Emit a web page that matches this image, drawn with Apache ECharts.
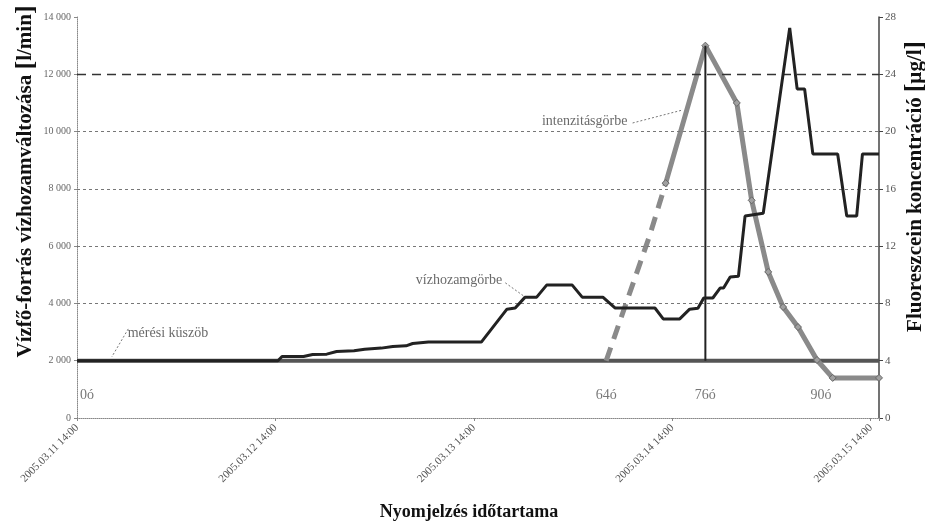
<!DOCTYPE html>
<html>
<head>
<meta charset="utf-8">
<script src="https://cdn.jsdelivr.net/npm/echarts@6/dist/echarts.min.js"></script>
<style>
  html, body { margin: 0; padding: 0; background: #ffffff; }
  #chart { width: 925px; height: 522px; }
</style>
</head>
<body>
<div id="chart"></div>
<script>
// Hours elapsed since 2005.03.11 14:00 on the x axis
const dayLabels = ['2005.03.11 14:00', '2005.03.12 14:00', '2005.03.13 14:00', '2005.03.14 14:00', '2005.03.15 14:00'];

// Spring discharge (l/min)
const dischargeHours  = [0, 24.3, 24.8, 27.4, 28.5, 30.2, 31.4, 33.5, 34.8, 36.8, 38.2, 39.8, 40.6, 42.5, 48.9,
                         52.0, 53.0, 54.2, 55.6, 56.8, 59.9, 61.1, 63.6, 65.1, 69.9, 70.9, 72.9, 74.1, 75.1,
                         75.8, 76.9, 77.8, 78.2, 79.0, 80.0, 80.8, 83.0, 86.2, 87.1, 88.0, 89.0, 92.0, 93.1,
                         94.3, 95.0, 97.0];
const dischargeValues = [2000, 2000, 2150, 2150, 2220, 2230, 2320, 2350, 2400, 2440, 2500, 2520, 2600, 2650, 2650,
                         3800, 3840, 4220, 4220, 4640, 4640, 4220, 4220, 3840, 3840, 3460, 3460, 3800, 3830,
                         4190, 4190, 4540, 4540, 4920, 4950, 7050, 7150, 13620, 11490, 11490, 9220, 9220, 7050,
                         7050, 9220, 9220];

// Fluorescein concentration (µg/l): estimated rising limb, then measured curve
const risingHours  = [64, 69.3, 71.2];
const risingValues = [4.0, 12.8, 16.4];
const intensityHours  = [71.2, 76, 79.8, 81.6, 83.6, 85.4, 87.2, 89.5, 91.4, 97];
const intensityValues = [16.4, 26.0, 22.0, 15.2, 10.2, 7.75, 6.35, 4.05, 2.8, 2.8];

// Detection threshold (µg/l)
const thresholdConc = 4;
const thresholdHours = [0, 97];

// Time of the concentration peak and the marked hours
const peakHour = 76;
const hourMarks = [0, 64, 76, 90];

// Horizontal guide lines on the discharge axis
const guideValues = [4000, 6000, 8000, 10000, 12000];
const strongGuide = 12000;

const serif = '"Liberation Serif", "DejaVu Serif", serif';

const zip = (xs, ys) => xs.map((x, i) => [x, ys[i]]);
const peakConc = intensityValues[intensityHours.indexOf(peakHour)];

// Curve captions with their leader lines (data coordinates on the discharge axis)
const captions = [
  { text: 'intenzitásgörbe', at: [61.4, 10370], leader: [[67.2, 10300], [73.2, 10750]] },
  { text: 'vízhozamgörbe',   at: [46.2, 4800],  leader: [[51.8, 4720], [54.2, 4224]] },
  { text: 'mérési küszöb',   at: [11.0, 2950],  leader: [[6.2, 3110], [4.2, 2130]] }
];

const chart = echarts.init(document.getElementById('chart'), null, { renderer: 'canvas' });

const series = [
  {
    name: 'segédvonalak',
    type: 'line',
    data: [],
    yAxisIndex: 0,
    silent: true,
    markLine: {
      symbol: 'none',
      silent: true,
      label: { show: false },
      data: guideValues.map(v => ({
        yAxis: v,
        lineStyle: v === strongGuide
          ? { color: '#333', width: 1.3, type: [9, 6] }
          : { color: '#777', width: 1, type: [3, 3] }
      }))
    }
  },
  {
    name: 'mérési küszöb',
    type: 'line',
    yAxisIndex: 1,
    data: thresholdHours.map(h => [h, thresholdConc]),
    symbol: 'none',
    lineStyle: { color: '#555', width: 4 },
    z: 2
  },
  {
    name: 'vízhozamgörbe',
    type: 'line',
    yAxisIndex: 0,
    data: zip(dischargeHours, dischargeValues),
    symbol: 'none',
    lineStyle: { color: '#222', width: 3 },
    z: 5
  },
  {
    name: 'intenzitásgörbe (becsült)',
    type: 'line',
    yAxisIndex: 1,
    data: zip(risingHours, risingValues),
    symbol: 'none',
    lineStyle: { color: '#8a8a8a', width: 5, type: [14, 9] },
    z: 3
  },
  {
    name: 'intenzitásgörbe',
    type: 'line',
    yAxisIndex: 1,
    data: zip(intensityHours, intensityValues),
    symbol: 'diamond',
    symbolSize: 7,
    itemStyle: { color: '#a0a0a0', borderColor: '#666', borderWidth: 1 },
    lineStyle: { color: '#8a8a8a', width: 5 },
    z: 3
  },
  {
    name: 'csúcs',
    type: 'line',
    yAxisIndex: 1,
    data: [[peakHour, peakConc], [peakHour, thresholdConc]],
    symbol: 'none',
    lineStyle: { color: '#222', width: 2 },
    z: 4
  },
  {
    name: 'órák',
    type: 'scatter',
    yAxisIndex: 1,
    symbolSize: 0,
    data: hourMarks.map(h => ({
      value: [h, 1.6],
      label: h === 0 ? { align: 'left', offset: [3, 0] } : {}
    })),
    label: {
      show: true,
      position: 'inside',
      formatter: p => p.value[0] + 'ó',
      fontFamily: serif,
      fontSize: 14,
      color: '#555'
    },
    z: 6
  },
  {
    name: 'feliratok',
    type: 'scatter',
    yAxisIndex: 0,
    symbolSize: 0,
    data: captions.map(c => ({ value: c.at, name: c.text })),
    label: {
      show: true,
      position: 'inside',
      formatter: p => p.name,
      fontFamily: serif,
      fontSize: 14,
      color: '#444'
    },
    z: 6
  }
];

captions.forEach(c => {
  series.push({
    name: 'vezető ' + c.text,
    type: 'line',
    yAxisIndex: 0,
    data: c.leader,
    symbol: 'none',
    lineStyle: { color: '#777', width: 1, type: [2, 2] },
    z: 6
  });
});

const option = {
  animation: false,
  backgroundColor: '#ffffff',
  grid: { left: 77, right: 46, top: 17, bottom: 104, containLabel: false, outerBoundsMode: 'none' },
  xAxis: {
    type: 'value',
    min: 0,
    max: 97,
    interval: 24,
    name: 'Nyomjelzés időtartama',
    nameLocation: 'middle',
    nameGap: 85,
    nameMoveOverlap: false,
    nameTextStyle: { fontFamily: serif, fontWeight: 'bold', fontSize: 18, color: '#111', padding: [0, 18, 0, 0] },
    axisLine: { show: true, lineStyle: { color: '#888', width: 1, type: [1, 1] } },
    axisTick: { show: true, length: 3, lineStyle: { color: '#888' } },
    axisLabel: {
      rotate: 45,
      margin: 8,
      fontFamily: serif,
      fontSize: 11,
      color: '#555',
      formatter: v => (v % 24 === 0 ? dayLabels[v / 24] : '')
    },
    splitLine: { show: false }
  },
  yAxis: [
    {
      type: 'value',
      position: 'left',
      min: 0,
      max: 14000,
      interval: 2000,
      name: 'Vízfő-forrás vízhozamváltozása {b|[}l/min{b|]}',
      nameLocation: 'middle',
      nameGap: 38,
      nameMoveOverlap: false,
      nameTextStyle: {
        fontFamily: serif, fontWeight: 'bold', fontSize: 21, color: '#111',
        padding: [0, 0, 0, 72],
        rich: { b: { fontFamily: serif, fontWeight: 'bold', fontSize: 26, color: '#111' } }
      },
      axisLine: { show: true, lineStyle: { color: '#888', width: 1, type: [1, 1] } },
      axisTick: { show: true, length: 3, lineStyle: { color: '#888' } },
      axisLabel: {
        margin: 6,
        fontFamily: serif,
        fontSize: 10,
        color: '#666',
        formatter: v => String(v).replace(/\B(?=(\d{3})+(?!\d))/g, ' ')
      },
      splitLine: { show: false }
    },
    {
      type: 'value',
      position: 'right',
      min: 0,
      max: 28,
      interval: 4,
      name: 'Fluoreszcein koncentráció {b|[}µg/l{b|]}',
      nameLocation: 'middle',
      nameGap: 24,
      nameMoveOverlap: false,
      nameTextStyle: {
        fontFamily: serif, fontWeight: 'bold', fontSize: 21, color: '#111',
        padding: [0, 0, 0, 62],
        rich: { b: { fontFamily: serif, fontWeight: 'bold', fontSize: 25, color: '#111' } }
      },
      axisLine: { show: true, lineStyle: { color: '#444', width: 1.5 } },
      axisTick: { show: true, length: 4, lineStyle: { color: '#444' } },
      axisLabel: { margin: 6, fontFamily: serif, fontSize: 11, color: '#555' },
      splitLine: { show: false }
    }
  ],
  series: series
};

chart.setOption(option);
</script>
</body>
</html>
